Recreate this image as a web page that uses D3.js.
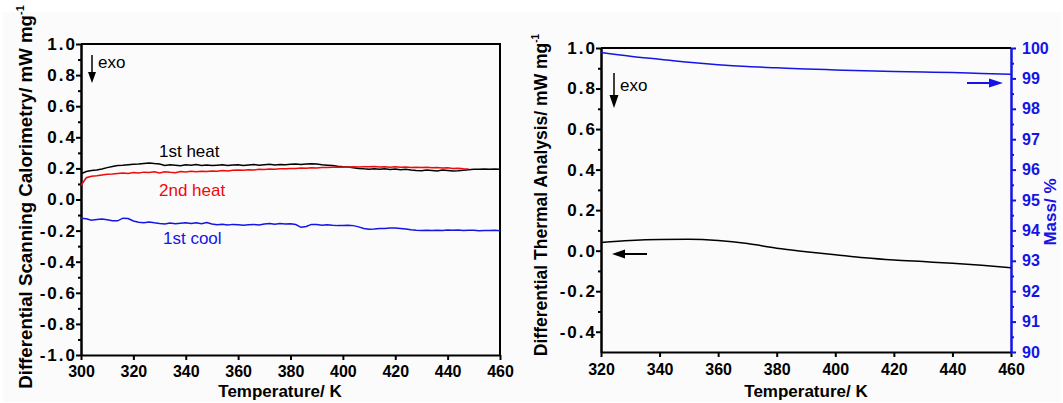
<!DOCTYPE html>
<html>
<head>
<meta charset="utf-8">
<script src="https://cdn.jsdelivr.net/npm/d3@7"></script>
<style>
body { margin: 0; background: #fff; }
svg { display: block; font-family: Arial, "Liberation Sans", sans-serif; }
.tick text { font-weight: bold; font-size: 16px; }
.yaxis .tick text { font-size: 17px; letter-spacing: 2px; }
</style>
</head>
<body>
<svg id="fig" width="1063" height="403"></svg>
<script>
// ---- DSC panel data (temperature K, heat flow mW/mg) ----
var dscTemp = [300,302,304,306,308,310,312,314,316,318,320,322,324,326,328,330,332,334,336,338,
  340,342,344,346,348,350,352,354,356,358,360,362,364,366,368,370,372,374,376,378,
  380,382,384,386,388,390,392,394,396,398,400,402,404,406,408,410,412,414,416,418,
  420,422,424,426,428,430,432,434,436,438,440,442,444,446,448,450,452,454,456,458,460];

var heat1 = [0.165,0.18,0.186,0.19,0.196,0.205,0.212,0.218,0.22,0.224,0.226,0.228,0.232,0.235,0.231,0.228,0.219,0.224,0.221,0.217,
  0.223,0.22,0.225,0.219,0.222,0.218,0.221,0.223,0.219,0.222,0.224,0.219,0.222,0.225,0.221,0.224,0.226,0.222,0.225,0.223,
  0.226,0.228,0.225,0.228,0.23,0.228,0.224,0.221,0.218,0.214,0.211,0.209,0.204,0.2,0.197,0.195,0.198,0.194,0.197,0.193,
  0.196,0.192,0.195,0.19,0.187,0.185,0.189,0.187,0.184,0.189,0.186,0.183,0.185,0.188,0.191,0.194,0.195,0.196,0.194,0.196,0.195];

var cool1 = [-0.121,-0.124,-0.134,-0.129,-0.126,-0.13,-0.136,-0.137,-0.12,-0.122,-0.138,-0.146,-0.149,-0.145,-0.15,-0.154,-0.157,-0.151,-0.156,-0.152,
  -0.149,-0.155,-0.15,-0.156,-0.148,-0.158,-0.162,-0.159,-0.164,-0.16,-0.163,-0.166,-0.162,-0.16,-0.164,-0.157,-0.154,-0.159,-0.155,-0.158,
  -0.156,-0.161,-0.179,-0.174,-0.16,-0.161,-0.165,-0.162,-0.166,-0.168,-0.167,-0.165,-0.168,-0.176,-0.186,-0.192,-0.19,-0.187,-0.186,-0.184,
  -0.183,-0.186,-0.189,-0.195,-0.198,-0.2,-0.198,-0.199,-0.197,-0.199,-0.196,-0.198,-0.196,-0.199,-0.197,-0.198,-0.201,-0.199,-0.2,-0.198,-0.201];

var heat2Temp = [300,302,304,306,308,310,312,314,316,318,320,322,324,326,328,330,332,334,336,338,
  340,342,344,346,348,350,352,354,356,358,360,362,364,366,368,370,372,374,376,378,
  380,382,384,386,388,390,392,394,396,398,400,402,404,406,408,410,412,414,416,418,
  420,422,424,426,428,430,432,434,436,438,440,442,444,446,448];

var heat2 = [0.09,0.14,0.15,0.153,0.158,0.162,0.164,0.167,0.17,0.168,0.174,0.171,0.176,0.173,0.178,0.17,0.179,0.175,0.172,0.18,
  0.177,0.181,0.178,0.182,0.18,0.184,0.182,0.186,0.184,0.188,0.19,0.188,0.192,0.19,0.194,0.193,0.196,0.195,0.198,0.197,
  0.2,0.199,0.202,0.201,0.204,0.203,0.206,0.205,0.208,0.207,0.209,0.208,0.21,0.209,0.211,0.21,0.212,0.209,0.211,0.208,
  0.21,0.207,0.209,0.206,0.208,0.205,0.207,0.204,0.206,0.203,0.204,0.2,0.201,0.198,0.196];

// ---- DTA / TG panel data ----
var dtaTemp = [320,330,340,350,360,370,380,390,400,410,420,430,440,450,460];
var dta = [0.04,0.05,0.055,0.056,0.05,0.035,0.012,-0.005,-0.02,-0.035,-0.046,-0.054,-0.062,-0.072,-0.084];
var mass = [99.85,99.73,99.63,99.53,99.45,99.39,99.35,99.31,99.28,99.25,99.23,99.21,99.19,99.16,99.14];

// ---- tick values ----
var dscXTicks = [300,320,340,360,380,400,420,440,460];
var dscYTicks = [-1,-0.8,-0.6,-0.4,-0.2,0,0.2,0.4,0.6,0.8,1];
var dscYMinor = [-0.9,-0.7,-0.5,-0.3,-0.1,0.1,0.3,0.5,0.7,0.9];
var dtaXTicks = [320,340,360,380,400,420,440,460];
var dtaYTicks = [-0.4,-0.2,0,0.2,0.4,0.6,0.8,1];
var dtaYMinor = [-0.3,-0.1,0.1,0.3,0.5,0.7,0.9];
var massTicks = [90,91,92,93,94,95,96,97,98,99,100];
var massMinor = [90.5,91.5,92.5,93.5,94.5,95.5,96.5,97.5,98.5,99.5];

var blue = '#1414e6';
var red = '#f00a0a';
var svg = d3.select('#fig');

// faint paper background
svg.append('rect').attr('x', 3).attr('y', 12).attr('width', 1058).attr('height', 390).attr('fill', '#fbfbfb');

var fmt1 = function(d) { return d.toFixed(1); };

function styleAxis(g, color) {
  g.select('.domain').attr('stroke', color).attr('stroke-width', 2);
  g.selectAll('.tick line').attr('stroke', color).attr('stroke-width', 2);
  g.selectAll('.tick text').attr('fill', color);
}

// ================= left panel: DSC =================
var xL = d3.scaleLinear().domain([300, 460]).range([81, 500]);
var yL = d3.scaleLinear().domain([-1, 1]).range([355, 44]);

var gL = svg.append('g');

gL.append('g').attr('transform', 'translate(81,0)')
  .call(d3.axisLeft(yL).tickValues(dscYMinor).tickSize(3).tickSizeOuter(0).tickFormat(''))
  .call(styleAxis, '#000');
gL.append('g').attr('class', 'yaxis').attr('transform', 'translate(81,0)')
  .call(d3.axisLeft(yL).tickValues(dscYTicks).tickSize(5).tickPadding(-1).tickSizeOuter(0).tickFormat(fmt1))
  .call(styleAxis, '#000');
gL.append('g').attr('transform', 'translate(0,355)')
  .call(d3.axisBottom(xL).tickValues(dscXTicks).tickSize(5).tickPadding(6).tickSizeOuter(0))
  .call(styleAxis, '#000');

gL.append('path')
  .attr('d', 'M' + xL(300) + ',' + yL(1) + 'H' + xL(460) + 'V' + yL(-1))
  .attr('fill', 'none').attr('stroke', '#000').attr('stroke-width', 2);

var lineL = function(temps) {
  return d3.line().x(function(d, i) { return xL(temps[i]); }).y(function(d) { return yL(d); });
};
gL.append('path').datum(heat1).attr('d', lineL(dscTemp))
  .attr('fill', 'none').attr('stroke', '#000').attr('stroke-width', 1.5);
gL.append('path').datum(heat2).attr('d', lineL(heat2Temp))
  .attr('fill', 'none').attr('stroke', red).attr('stroke-width', 1.5);
gL.append('path').datum(cool1).attr('d', lineL(dscTemp))
  .attr('fill', 'none').attr('stroke', blue).attr('stroke-width', 1.5);

gL.append('text').attr('x', 159).attr('y', 157).attr('font-size', 17).text('1st heat');
gL.append('text').attr('x', 159).attr('y', 196).attr('font-size', 17).attr('fill', red).text('2nd heat');
gL.append('text').attr('x', 163).attr('y', 244).attr('font-size', 17).attr('fill', blue).text('1st cool');

// exo arrow
gL.append('line').attr('x1', 92).attr('y1', 55).attr('x2', 92).attr('y2', 74)
  .attr('stroke', '#000').attr('stroke-width', 1.5);
gL.append('path').attr('d', 'M88,72L96,72L92,83Z').attr('fill', '#000');
gL.append('text').attr('x', 98).attr('y', 68).attr('font-size', 17).text('exo');

gL.append('text').attr('x', 280).attr('y', 397).attr('text-anchor', 'middle')
  .attr('font-size', 17).attr('font-weight', 'bold').text('Temperature/ K');
var tL = gL.append('text').attr('transform', 'translate(32,197) rotate(-90)')
  .attr('text-anchor', 'middle').attr('font-size', 18.7).attr('font-weight', 'bold');
tL.append('tspan').text('Differential Scanning Calorimetry/ mW mg');
tL.append('tspan').attr('dy', -8).attr('font-size', 11).text('-1');

// ================= right panel: DTA + mass =================
var xR = d3.scaleLinear().domain([320, 460]).range([601, 1011]);
var yR = d3.scaleLinear().domain([-0.5, 1]).range([352, 48]);
var yM = d3.scaleLinear().domain([90, 100]).range([352, 48]);

var gR = svg.append('g');

gR.append('g').attr('transform', 'translate(601,0)')
  .call(d3.axisLeft(yR).tickValues(dtaYMinor).tickSize(3).tickSizeOuter(0).tickFormat(''))
  .call(styleAxis, '#000');
gR.append('g').attr('class', 'yaxis').attr('transform', 'translate(601,0)')
  .call(d3.axisLeft(yR).tickValues(dtaYTicks).tickSize(5).tickPadding(-1).tickSizeOuter(0).tickFormat(fmt1))
  .call(styleAxis, '#000');
gR.append('g').attr('transform', 'translate(0,352)')
  .call(d3.axisBottom(xR).tickValues(dtaXTicks).tickSize(5).tickPadding(7).tickSizeOuter(0))
  .call(styleAxis, '#000');
gR.append('line').attr('x1', xR(320)).attr('x2', xR(460)).attr('y1', yR(1)).attr('y2', yR(1))
  .attr('stroke', '#000').attr('stroke-width', 2);
gR.append('g').attr('transform', 'translate(1011,0)')
  .call(d3.axisRight(yM).tickValues(massMinor).tickSize(3).tickSizeOuter(0).tickFormat(''))
  .call(styleAxis, blue);
gR.append('g').attr('transform', 'translate(1011,0)')
  .call(d3.axisRight(yM).tickValues(massTicks).tickSize(5).tickPadding(6).tickSizeOuter(0))
  .call(styleAxis, blue);

gR.append('path').datum(dta)
  .attr('d', d3.line().curve(d3.curveMonotoneX)
    .x(function(d, i) { return xR(dtaTemp[i]); }).y(function(d) { return yR(d); }))
  .attr('fill', 'none').attr('stroke', '#000').attr('stroke-width', 1.5);
gR.append('path').datum(mass)
  .attr('d', d3.line().curve(d3.curveMonotoneX)
    .x(function(d, i) { return xR(dtaTemp[i]); }).y(function(d) { return yM(d); }))
  .attr('fill', 'none').attr('stroke', blue).attr('stroke-width', 1.5);

// exo arrow
gR.append('line').attr('x1', 614).attr('y1', 73).attr('x2', 614).attr('y2', 97)
  .attr('stroke', '#000').attr('stroke-width', 1.5);
gR.append('path').attr('d', 'M609.5,95L618.5,95L614,108Z').attr('fill', '#000');
gR.append('text').attr('x', 620).attr('y', 91).attr('font-size', 17).text('exo');

// axis pointer arrows
gR.append('line').attr('x1', 647).attr('y1', 254).attr('x2', 622).attr('y2', 254)
  .attr('stroke', '#000').attr('stroke-width', 2);
gR.append('path').attr('d', 'M625,249.5L625,258.5L612,254Z').attr('fill', '#000');
gR.append('line').attr('x1', 967).attr('y1', 83).attr('x2', 992).attr('y2', 83)
  .attr('stroke', blue).attr('stroke-width', 2);
gR.append('path').attr('d', 'M989,78.5L989,87.5L1003,83Z').attr('fill', blue);

gR.append('text').attr('x', 806).attr('y', 397).attr('text-anchor', 'middle')
  .attr('font-size', 17).attr('font-weight', 'bold').text('Temperature/ K');
var tR = gR.append('text').attr('transform', 'translate(547,195) rotate(-90)')
  .attr('text-anchor', 'middle').attr('font-size', 17.5).attr('font-weight', 'bold');
tR.append('tspan').text('Differential Thermal Analysis/ mW mg');
tR.append('tspan').attr('dy', -8).attr('font-size', 10).text('-1');
gR.append('text').attr('transform', 'translate(1056,212) rotate(-90)')
  .attr('text-anchor', 'middle').attr('font-size', 17).attr('font-weight', 'bold')
  .attr('fill', blue).text('Mass/ %');
</script>
</body>
</html>
